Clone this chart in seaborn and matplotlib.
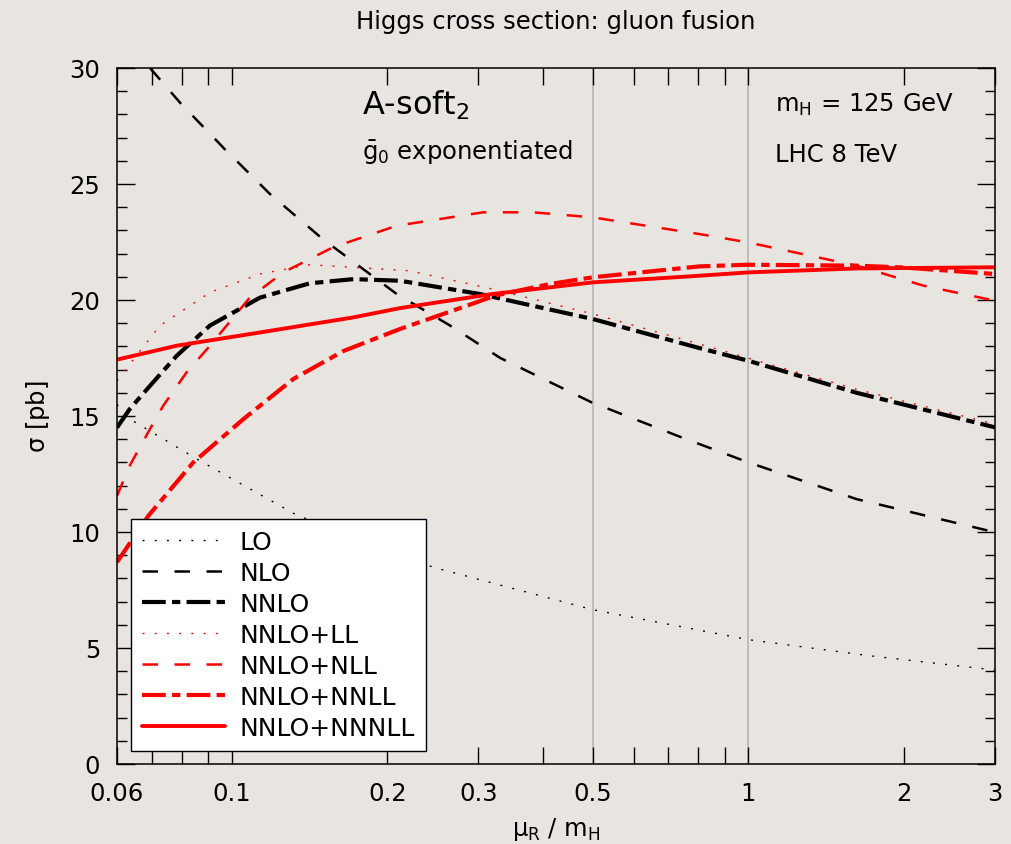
import pandas as pd
import matplotlib
matplotlib.use('Agg')
import matplotlib.pyplot as plt
from matplotlib.ticker import FixedLocator, MultipleLocator, NullFormatter
import seaborn as sns

# Curve names, in legend order
labels = ['LO', 'NLO', 'NNLO', 'NNLO+LL', 'NNLO+NLL', 'NNLO+NNLL', 'NNLO+NNNLL']

# Values (mu_R / m_H, sigma in pb)
lo_mu = [0.06, 0.0635, 0.0868, 0.1336, 0.2455, 0.5, 1.0, 1.71, 3.0]
lo_sigma = [15.5, 14.87, 13.07, 10.73, 8.48, 6.65, 5.36, 4.67, 4.05]

nlo_mu = [0.0695, 0.0795, 0.097, 0.1186, 0.150, 0.2086, 0.2646, 0.331, 0.497, 0.738, 1.0, 1.618, 3.0]
nlo_sigma = [30.0, 28.5, 26.5, 24.57, 22.63, 20.26, 18.9, 17.5, 15.59, 14.1, 13.0, 11.42, 9.99]

nnlo_mu = [0.06, 0.0635, 0.0695, 0.0783, 0.0908, 0.1134, 0.1416, 0.172, 0.2117, 0.302, 0.383, 0.5, 0.794, 1.0, 1.62, 3.0]
nnlo_sigma = [14.5, 15.3, 16.3, 17.6, 18.9, 20.1, 20.72, 20.9, 20.83, 20.26, 19.75, 19.18, 17.96, 17.38, 16.0, 14.51]

ll_mu = [0.06, 0.0635, 0.0727, 0.0908, 0.1134, 0.1416, 0.221, 0.32, 0.5, 0.805, 1.0, 1.62, 3.0]
ll_sigma = [16.52, 17.24, 18.9, 20.33, 21.12, 21.52, 21.26, 20.47, 19.4, 18.1, 17.49, 16.15, 14.65]

nll_mu = [0.06, 0.0635, 0.0695, 0.0737, 0.0818, 0.0908, 0.1085, 0.1259, 0.157, 0.2086, 0.3066, 0.383, 0.5, 0.805, 1.0, 1.62, 2.18, 3.0]
nll_sigma = [11.56, 12.86, 14.44, 15.44, 16.88, 18.03, 20.11, 21.19, 22.27, 23.2, 23.78, 23.78, 23.56, 22.84, 22.48, 21.48, 20.62, 19.97]

nnll_mu = [0.06, 0.069, 0.0843, 0.1054, 0.1317, 0.1645, 0.2117, 0.2646, 0.325, 0.413, 0.5, 0.805, 1.0, 1.62, 2.0, 3.0]
nnll_sigma = [8.7, 10.7, 13.0, 14.87, 16.6, 17.8, 18.75, 19.5, 20.2, 20.69, 20.98, 21.45, 21.52, 21.48, 21.4, 21.12]

nnnll_mu = [0.06, 0.0783, 0.1134, 0.172, 0.2117, 0.32, 0.5, 0.772, 1.0, 1.62, 3.0]
nnnll_sigma = [17.43, 18.03, 18.6, 19.25, 19.65, 20.26, 20.76, 21.02, 21.19, 21.36, 21.41]

xticks = [0.06, 0.1, 0.2, 0.3, 0.5, 1, 2, 3]
xtick_labels = ['0.06', '0.1', '0.2', '0.3', '0.5', '1', '2', '3']
xminor = [0.07, 0.08, 0.09, 0.4, 0.6, 0.7, 0.8, 0.9]

curves = {
    'LO': (lo_mu, lo_sigma),
    'NLO': (nlo_mu, nlo_sigma),
    'NNLO': (nnlo_mu, nnlo_sigma),
    'NNLO+LL': (ll_mu, ll_sigma),
    'NNLO+NLL': (nll_mu, nll_sigma),
    'NNLO+NNLL': (nnll_mu, nnll_sigma),
    'NNLO+NNNLL': (nnnll_mu, nnnll_sigma),
}
df = pd.concat([pd.DataFrame({'mu': m, 'sigma': s, 'curve': name})
                for name, (m, s) in curves.items()], ignore_index=True)

sns.set_theme(style='ticks')
plt.rcParams['font.family'] = ['DejaVu Sans']
plt.rcParams['mathtext.default'] = 'regular'
plt.rcParams['axes.linewidth'] = 1.1
plt.rcParams['text.color'] = 'black'
plt.rcParams['axes.labelcolor'] = 'black'

bg = '#e8e5e0'
fig = plt.figure(figsize=(10.11, 8.45), dpi=100, facecolor=bg)
ax = fig.add_axes([117 / 1011, 80 / 845, 878 / 1011, 696 / 845])
ax.set_facecolor('none')
ax.set_xscale('log')

palette = {'LO': 'black', 'NLO': 'black', 'NNLO': 'black',
           'NNLO+LL': 'red', 'NNLO+NLL': 'red', 'NNLO+NNLL': 'red', 'NNLO+NNNLL': 'red'}
dashes = {'LO': (1.4, 7.4), 'NLO': (6.2, 6.6), 'NNLO': (5.7, 1.5, 2.0, 1.5),
          'NNLO+LL': (1.4, 7.4), 'NNLO+NLL': (6.2, 6.6), 'NNLO+NNLL': (5.7, 1.5, 2.0, 1.5),
          'NNLO+NNNLL': ''}
sizes = {'LO': 1.0, 'NLO': 1.8, 'NNLO': 3.0,
         'NNLO+LL': 1.0, 'NNLO+NLL': 1.8, 'NNLO+NNLL': 3.0, 'NNLO+NNNLL': 2.8}

# reference lines at mu = m_H/2 and m_H
for v in [0.5, 1.0]:
    ax.axvline(v, color='#b9b9b9', lw=1.3, zorder=0)

sns.lineplot(data=df, x='mu', y='sigma', hue='curve', style='curve', size='curve',
             hue_order=labels, style_order=labels, size_order=labels,
             palette=palette, dashes=dashes, sizes=sizes,
             estimator=None, sort=False, ax=ax)

ax.set_xlim(0.06, 3)
ax.set_ylim(0, 30)
ax.xaxis.set_major_locator(FixedLocator(xticks))
ax.set_xticklabels(xtick_labels)
ax.xaxis.set_minor_locator(FixedLocator(xminor))
ax.xaxis.set_minor_formatter(NullFormatter())
ax.yaxis.set_major_locator(MultipleLocator(5))
ax.yaxis.set_minor_locator(MultipleLocator(1))

ax.tick_params(which='both', direction='in', top=True, right=True, color='black',
               width=1.0, labelsize=17.5, pad=12, labelcolor='black')
ax.tick_params(axis='x', which='both', length=12)
ax.tick_params(axis='y', which='major', length=13)
ax.tick_params(axis='y', which='minor', length=7)
for sp in ax.spines.values():
    sp.set_color('black')

ax.set_xlabel(r'$\mu_R$ / $m_H$', fontsize=17.5, va='center')
ax.xaxis.set_label_coords(0.5, -65 / 696)
ax.set_ylabel(r'$\sigma$ [pb]', fontsize=17.5, va='center')
ax.yaxis.set_label_coords(-79 / 878, 0.5)

fig.text(556 / 1011, 1 - 22 / 845, 'Higgs cross section: gluon fusion',
         ha='center', va='center', fontsize=17.5)

ax.text(0.279, 0.948, r'A-soft$_2$', transform=ax.transAxes, fontsize=23, va='center')
ax.text(0.279, 0.881, r'$\bar{g}_0$ exponentiated', transform=ax.transAxes, fontsize=17.5, va='center')
ax.text(0.749, 0.948, r'$m_H$ = 125 GeV', transform=ax.transAxes, fontsize=17.5, va='center')
ax.text(0.749, 0.876, 'LHC 8 TeV', transform=ax.transAxes, fontsize=17.5, va='center')

sns.move_legend(ax, 'lower left', bbox_to_anchor=(14 / 878, 13 / 696), borderaxespad=0,
                title=None, frameon=True, fancybox=False, framealpha=1,
                facecolor='white', edgecolor='black', fontsize=18,
                handlelength=3.3, handletextpad=0.6, labelspacing=0.28, borderpad=0.45)
leg = ax.get_legend()
leg.get_frame().set_linewidth(1.0)
for t in leg.get_texts():
    t.set_color('black')

fig.savefig('out.png', dpi=100, facecolor=bg)
